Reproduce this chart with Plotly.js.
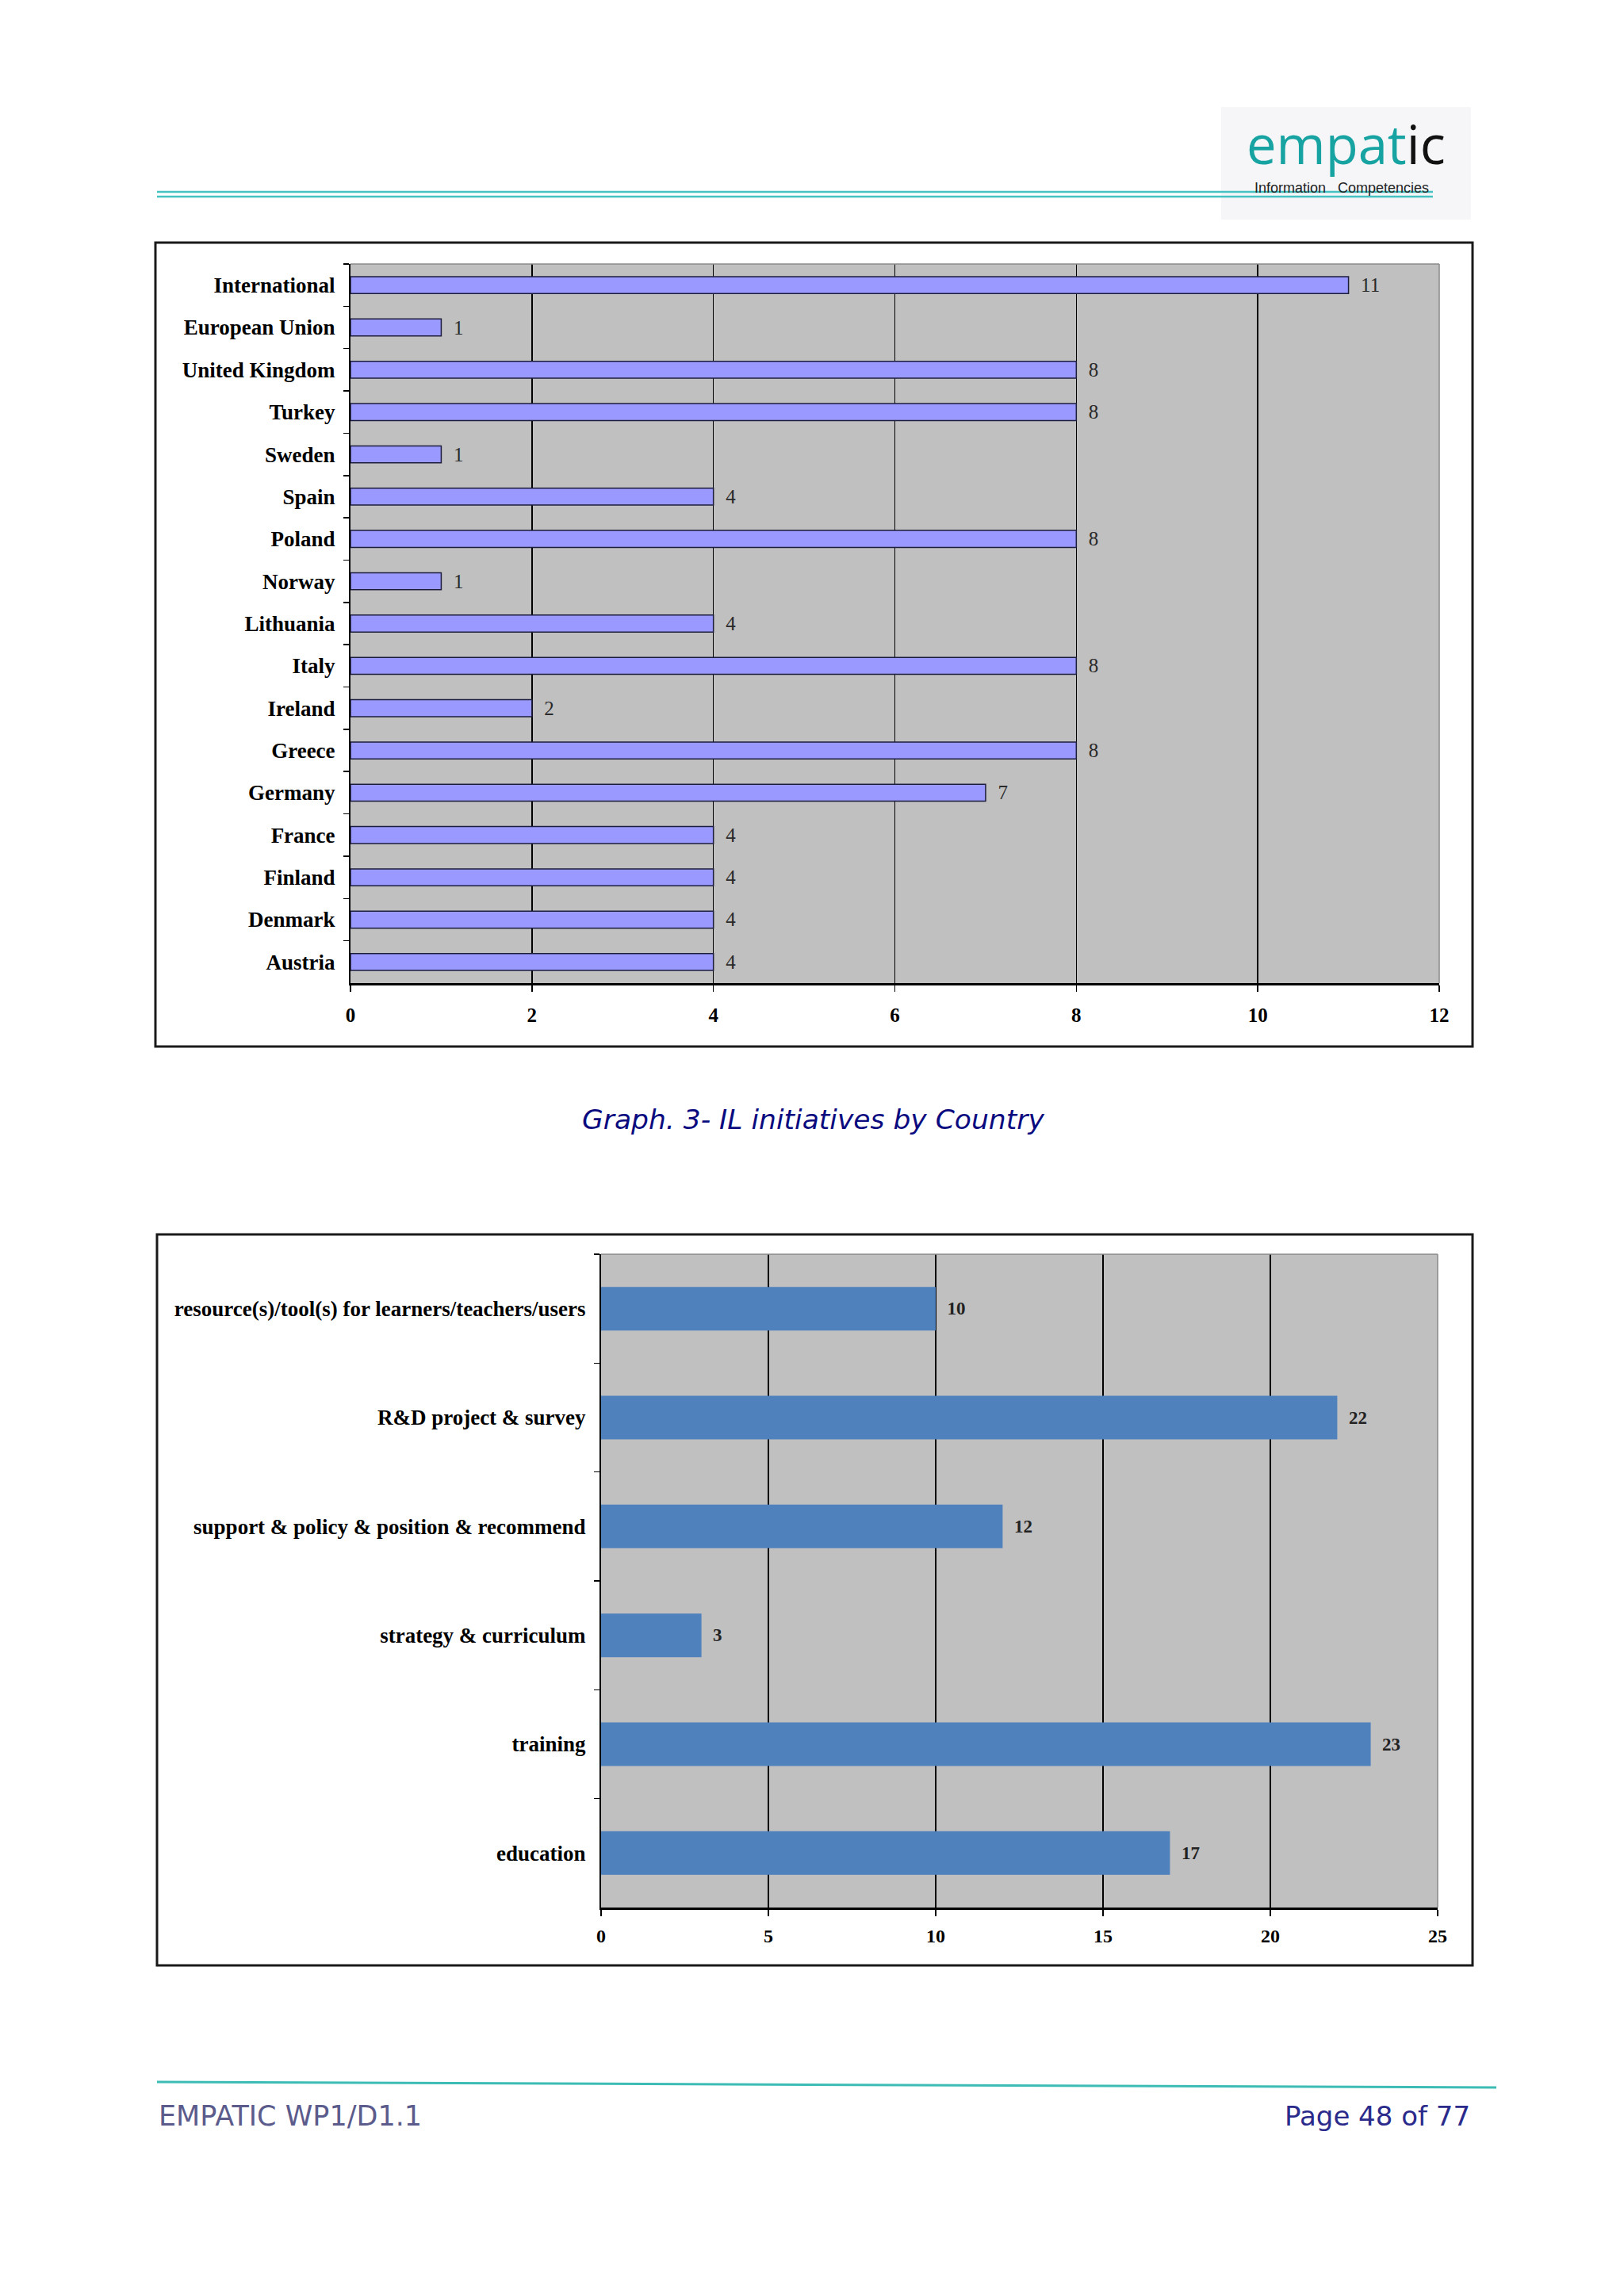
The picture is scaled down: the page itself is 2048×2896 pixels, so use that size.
<!DOCTYPE html>
<html><head><meta charset="utf-8">
<script src="https://cdn.plot.ly/plotly-3.0.1.min.js"></script>
<style>html,body{margin:0;padding:0;background:#fff}#chart{width:2048px;height:2896px}</style>
</head><body><div id="chart"></div>
<script>
// ---- data ----
const countries = ["International","European Union","United Kingdom","Turkey","Sweden","Spain","Poland","Norway","Lithuania","Italy","Ireland","Greece","Germany","France","Finland","Denmark","Austria"];
const countryCounts = [11,1,8,8,1,4,8,1,4,8,2,8,7,4,4,4,4];
const countryTicks = [0,2,4,6,8,10,12];
const types = ["resource(s)/tool(s) for learners/teachers/users","R&D project & survey","support & policy & position & recommend","strategy & curriculum","training","education"];
const typeCounts = [10,22,12,3,23,17];
const typeTicks = [0,5,10,15,20,25];
const captionText = "Graph. 3- IL initiatives by Country";
const footerLeft = "EMPATIC WP1/D1.1";
const footerRight = "Page 48 of 77";
const logoMain = "empat";
const logoTail = "ic";
const logoSub = "Information\u00a0\u00a0 Competencies";

// ---- page geometry helpers (pixels -> paper) ----
const W = 2048, H = 2896;
const px = x => x / W;
const py = y => 1 - y / H;
const SERIF = "Liberation Serif, Times New Roman, serif";
const SANS = "DejaVu Sans, Verdana, sans-serif";

const trace1 = {
  type: 'bar', orientation: 'h',
  x: countryCounts, y: countries,
  xaxis: 'x', yaxis: 'y',
  marker: {color: '#9999FF', line: {color: '#1c1c3c', width: 1.5}},
  texttemplate: '\u00a0\u00a0%{x}', textposition: 'outside', cliponaxis: false, constraintext: 'none',
  textfont: {family: SERIF, size: 25, color: '#2a2a2a'},
  hoverinfo: 'skip'
};
const trace2 = {
  type: 'bar', orientation: 'h',
  x: typeCounts, y: types,
  xaxis: 'x2', yaxis: 'y2',
  marker: {color: '#4F81BD', line: {width: 0}},
  texttemplate: '\u00a0\u00a0<b>%{x}</b>', textposition: 'outside', cliponaxis: false, constraintext: 'none',
  textfont: {family: SERIF, size: 23, color: '#222222'},
  hoverinfo: 'skip'
};

const xCommon = {
  showgrid: true, gridcolor: '#000000', gridwidth: 1.5,
  zeroline: false, showline: true, linecolor: '#000000', linewidth: 2.5,
  ticks: 'outside', ticklen: 8, tickwidth: 1.5, tickcolor: '#000000',
  fixedrange: true
};
const yCommon = {
  type: 'category', autorange: 'reversed', showgrid: false, zeroline: false,
  showline: true, linecolor: '#000000', linewidth: 2,
  ticks: 'outside', tickson: 'boundaries', ticklen: 7, tickwidth: 1.5, tickcolor: '#000000',
  ticklabelstandoff: 12,
  fixedrange: true
};

const layout = {
  width: W, height: H,
  margin: {l: 0, r: 0, t: 0, b: 0},
  paper_bgcolor: '#ffffff', plot_bgcolor: '#C0C0C0',
  showlegend: false, bargap: 0.6,
  xaxis: Object.assign({}, xCommon, {
    domain: [px(442), px(1815)], anchor: 'y', range: [0, 12],
    tickvals: countryTicks, ticklabelstandoff: 8,
    tickfont: {family: SERIF, size: 25, color: '#000', weight: 'bold'}
  }),
  yaxis: Object.assign({}, yCommon, {
    domain: [py(1240), py(333)], anchor: 'x',
    categoryarray: countries, categoryorder: 'array',
    tickfont: {family: SERIF, size: 27, color: '#000', weight: 'bold'}
  }),
  xaxis2: Object.assign({}, xCommon, {
    domain: [px(758), px(1813)], anchor: 'y2', range: [0, 25],
    tickvals: typeTicks, ticklabelstandoff: 5,
    tickfont: {family: SERIF, size: 24, color: '#000', weight: 'bold'}
  }),
  yaxis2: Object.assign({}, yCommon, {
    domain: [py(2406), py(1582)], anchor: 'x2',
    categoryarray: types, categoryorder: 'array',
    tickfont: {family: SERIF, size: 27, color: '#000', weight: 'bold'}
  }),
  shapes: [
    // logo background
    {type: 'rect', xref: 'paper', yref: 'paper', x0: px(1540), x1: px(1855), y0: py(277), y1: py(135),
     fillcolor: '#f6f6f8', line: {width: 0}, layer: 'below'},
    // header double line
    {type: 'line', xref: 'paper', yref: 'paper', x0: px(198), x1: px(1807), y0: py(242), y1: py(242),
     line: {color: '#45c3c3', width: 2.5}},
    {type: 'line', xref: 'paper', yref: 'paper', x0: px(198), x1: px(1807), y0: py(248), y1: py(248),
     line: {color: '#45c3c3', width: 2.5}},
    // chart frames
    {type: 'rect', xref: 'paper', yref: 'paper', x0: px(196), x1: px(1857), y0: py(1320), y1: py(306),
     line: {color: '#1a1a1a', width: 3}},
    {type: 'rect', xref: 'paper', yref: 'paper', x0: px(198), x1: px(1857), y0: py(2479), y1: py(1557),
     line: {color: '#1a1a1a', width: 3}},
    // plot area borders (top/right grey)
    {type: 'line', xref: 'paper', yref: 'paper', x0: px(442), x1: px(1815), y0: py(333), y1: py(333),
     line: {color: '#8a8a8a', width: 1.5}},
    {type: 'line', xref: 'paper', yref: 'paper', x0: px(1815), x1: px(1815), y0: py(333), y1: py(1240),
     line: {color: '#8a8a8a', width: 1.5}},
    {type: 'line', xref: 'paper', yref: 'paper', x0: px(758), x1: px(1813), y0: py(1582), y1: py(1582),
     line: {color: '#8a8a8a', width: 1.5}},
    {type: 'line', xref: 'paper', yref: 'paper', x0: px(1813), x1: px(1813), y0: py(1582), y1: py(2406),
     line: {color: '#8a8a8a', width: 1.5}},
    // footer line
    {type: 'line', xref: 'paper', yref: 'paper', x0: px(198), x1: px(1887), y0: py(2626), y1: py(2633),
     line: {color: '#3cbcb4', width: 3}}
  ],
  annotations: [
    {xref: 'paper', yref: 'paper', x: px(1570), y: py(181), xanchor: 'left', yanchor: 'middle', showarrow: false,
     text: '<span style="color:#17a3a1">' + logoMain + '</span><span style="color:#111111">' + logoTail + '</span>',
     font: {family: 'Open Sans, Noto Sans, sans-serif', size: 67}},
    {xref: 'paper', yref: 'paper', x: px(1580), y: py(237), xanchor: 'left', yanchor: 'middle', showarrow: false,
     text: logoSub, font: {family: 'Liberation Sans, Arial, sans-serif', size: 18, color: '#222222'}},
    {xref: 'paper', yref: 'paper', x: px(1025), y: py(1412), xanchor: 'center', yanchor: 'middle', showarrow: false,
     text: '<i>' + captionText + '</i>', font: {family: SANS, size: 34.5, color: '#0b0b80'}},
    {xref: 'paper', yref: 'paper', x: px(198), y: py(2669), xanchor: 'left', yanchor: 'middle', showarrow: false,
     text: footerLeft, font: {family: SANS, size: 35, color: '#5b5b8c'}},
    {xref: 'paper', yref: 'paper', x: px(1856), y: py(2669), xanchor: 'right', yanchor: 'middle', showarrow: false,
     text: footerRight, font: {family: SANS, size: 34, color: '#2b2b8c'}}
  ]
};

Plotly.newPlot('chart', [trace1, trace2], layout, {staticPlot: true, displayModeBar: false});
</script>
</body></html>
